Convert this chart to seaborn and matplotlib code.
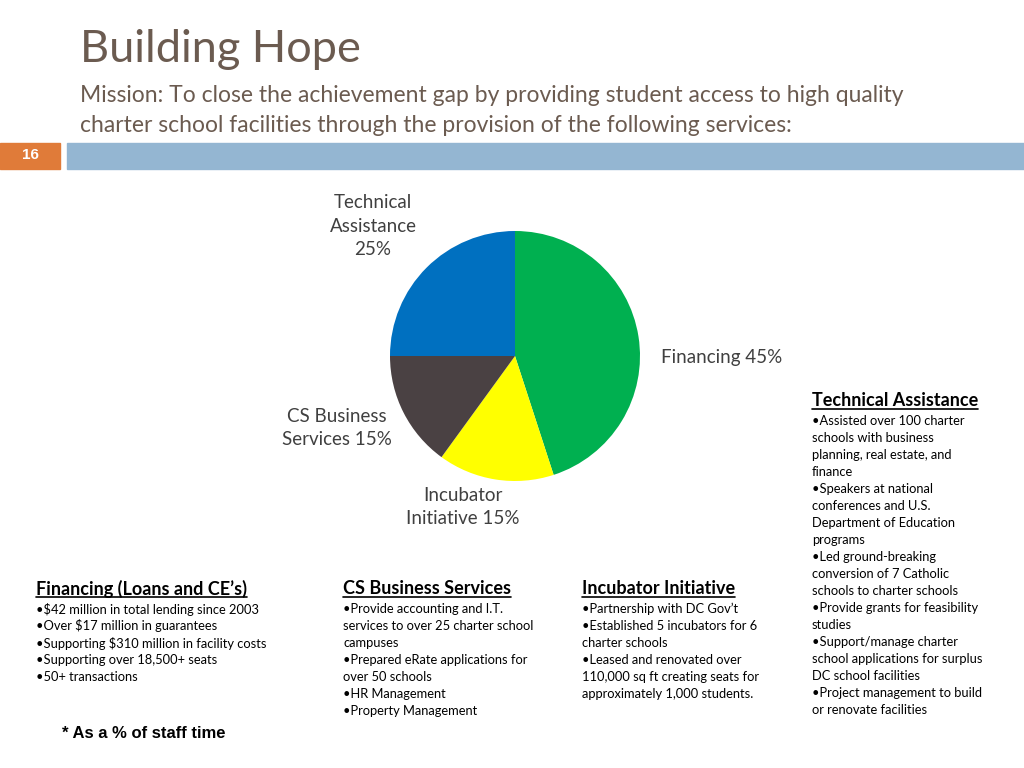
import matplotlib.pyplot as plt
import matplotlib.patches as mpatches
from matplotlib.lines import Line2D
import seaborn as sns

# pie data (share of staff time)
services = ['Financing', 'Incubator Initiative', 'CS Business Services', 'Technical Assistance']
shares = [45, 15, 15, 25]
slice_colors = ['#00b050', '#ffff00', '#4a4143', '#0070c0']
pie_labels = ['Financing 45%', 'Incubator\nInitiative 15%', 'CS Business\nServices 15%', 'Technical\nAssistance\n25%']

title = 'Building Hope'
mission = ['Mission: To close the achievement gap by providing student access to high quality',
           'charter school facilities through the provision of the following services:']
slide_no = '16'

financing_lines = ['•$42 million in total lending since 2003',
                   '•Over $17 million in guarantees',
                   '•Supporting $310 million in facility costs',
                   '•Supporting over 18,500+ seats',
                   '•50+ transactions']
cs_lines = ['•Provide accounting and I.T.',
            'services to over 25 charter school',
            'campuses',
            '•Prepared eRate applications for',
            'over 50 schools',
            '•HR Management',
            '•Property Management']
incubator_lines = ['•Partnership with DC Gov’t',
                   '•Established 5 incubators for 6',
                   'charter schools',
                   '•Leased and renovated over',
                   '110,000 sq ft creating seats for',
                   'approximately 1,000 students.']
ta_lines = ['•Assisted over 100 charter',
            'schools with business',
            'planning, real estate, and',
            'finance',
            '•Speakers at national',
            'conferences and U.S.',
            'Department of Education',
            'programs',
            '•Led ground-breaking',
            'conversion of 7 Catholic',
            'schools to charter schools',
            '•Provide grants for feasibility',
            'studies',
            '•Support/manage charter',
            'school applications for surplus',
            'DC school facilities',
            '•Project management to build',
            'or renovate facilities']

sns.set_theme(style='white')
plt.rcParams['font.family'] = ['Lato', 'DejaVu Sans']

W, H = 1024, 768
fig = plt.figure(figsize=(W / 100, H / 100), dpi=100)
fig.patch.set_facecolor('white')


def fx(x):
    return x / W


def fy(y):
    return 1 - y / H


def txt(x, y, s, **kw):
    return fig.text(fx(x), fy(y), s, va='center', **kw)


# header
title_col = '#6b5b50'
txt(80, 50, title, fontsize=32.5, color=title_col)
txt(80, 95, mission[0], fontsize=16.5, color=title_col)
txt(80, 125, mission[1], fontsize=16.5, color=title_col)

fig.patches.append(mpatches.Rectangle((fx(0), fy(169)), fx(60), 26 / H,
                                      transform=fig.transFigure, color='#e07b39'))
fig.patches.append(mpatches.Rectangle((fx(67), fy(169)), fx(W - 67), 26 / H,
                                      transform=fig.transFigure, color='#94b6d2'))
txt(30, 155, slide_no, fontsize=11, color='white', fontweight='bold', ha='center',
    family='Liberation Sans')

# pie chart
cx, cy, r = 515, 356, 125
ax = fig.add_axes([fx(cx - r), fy(cy + r), 2 * r / W, 2 * r / H])
ax.pie(shares, colors=slice_colors, startangle=90, counterclock=False, radius=1,
       wedgeprops={'linewidth': 0})
ax.set_xlim(-1, 1)
ax.set_ylim(-1, 1)
ax.set_aspect('equal')
ax.axis('off')

lab_col = '#404040'
txt(661, 357, pie_labels[0], fontsize=13.5, color=lab_col, ha='left')
txt(463, 507, pie_labels[1], fontsize=13.5, color=lab_col, ha='center', linespacing=1.45)
txt(337, 428, pie_labels[2], fontsize=13.5, color=lab_col, ha='center', linespacing=1.45)
txt(373, 226, pie_labels[3], fontsize=13.5, color=lab_col, ha='center', linespacing=1.45)

# service descriptions
headings = []


def block(x, y_head, head, lines, y_first):
    h = txt(x, y_head, head, fontsize=13, fontweight='bold', color='black')
    headings.append(h)
    for i, line in enumerate(lines):
        txt(x, y_first + 17 * i, line, fontsize=9.3, color='black')


block(36, 589, 'Financing (Loans and CE’s)', financing_lines, 609)
block(343, 589, 'CS Business Services', cs_lines, 609)
block(582, 589, 'Incubator Initiative', incubator_lines, 609)
block(812, 401, 'Technical Assistance', ta_lines, 421)

txt(62, 733, '* As a % of staff time', fontsize=12, fontweight='bold', color='black',
    family='Liberation Sans')

# underline the headings
fig.canvas.draw()
rend = fig.canvas.get_renderer()
inv = fig.transFigure.inverted()
for h in headings:
    bb = h.get_window_extent(rend)
    (x0, y0), (x1, _) = inv.transform([(bb.x0, bb.y0 + 1), (bb.x1, bb.y0)])
    fig.lines.append(Line2D([x0, x1], [y0, y0], transform=fig.transFigure,
                            color='black', linewidth=1.2))

fig.savefig('out.png', dpi=100)
